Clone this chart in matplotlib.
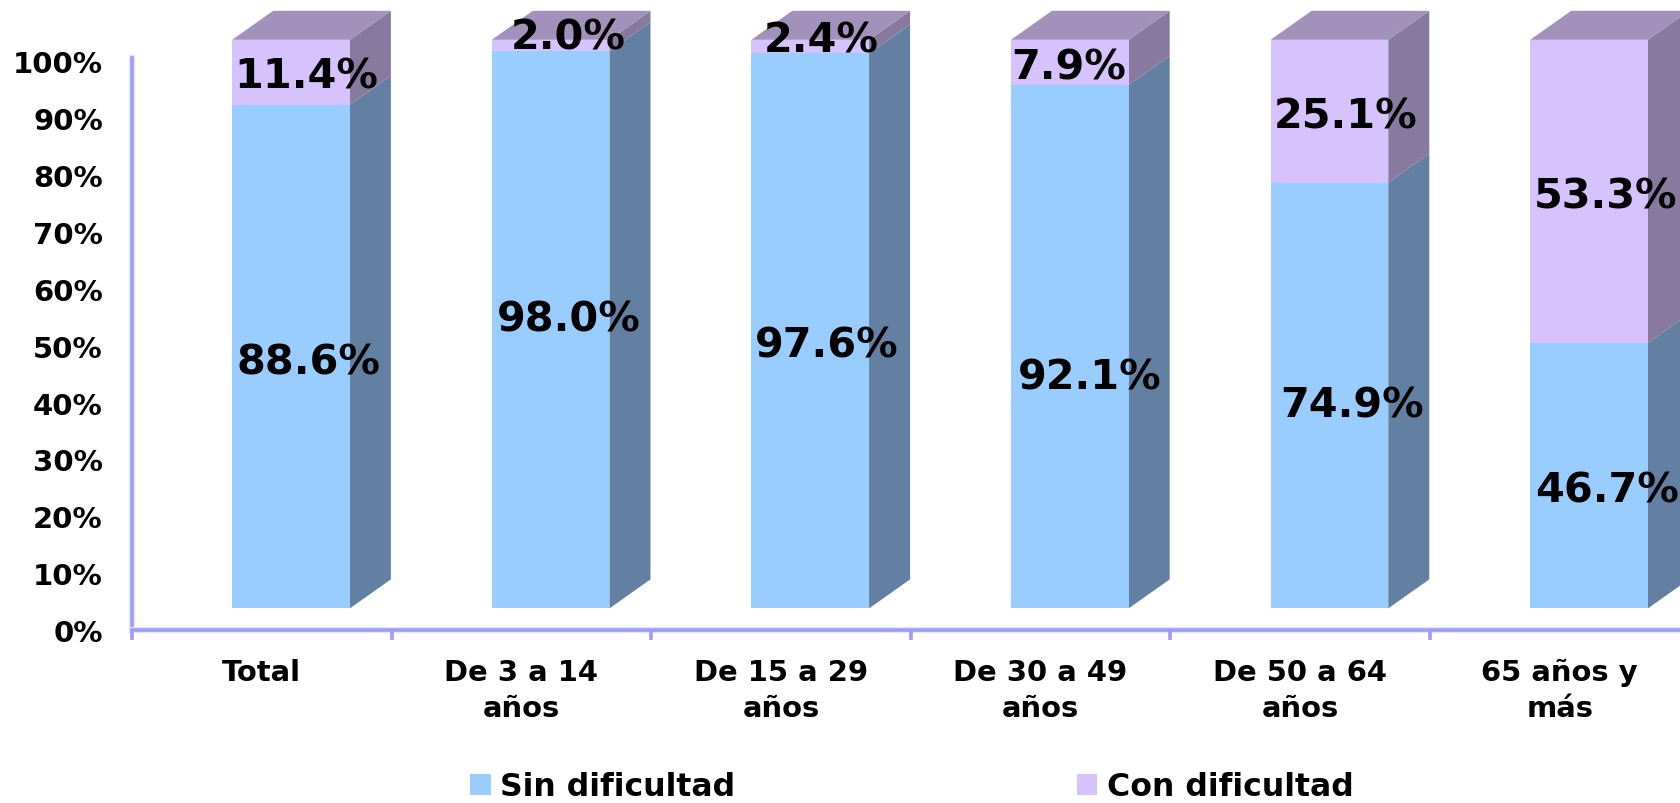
import matplotlib
matplotlib.use('Agg')
import matplotlib.pyplot as plt
import matplotlib.patheffects as pe

categories = ['Total', 'De 3 a 14\naños', 'De 15 a 29\naños', 'De 30 a 49\naños', 'De 50 a 64\naños', '65 años y\nmás']
sin_dificultad = [88.6, 98.0, 97.6, 92.1, 74.9, 46.7]
con_dificultad = [11.4, 2.0, 2.4, 7.9, 25.1, 53.3]
y_ticks = [0, 10, 20, 30, 40, 50, 60, 70, 80, 90, 100]

# label nudges in pixels, labels in the original were moved by hand
sin_nudge = [(17.6, -5.5), (18, 10.5), (17, -15), (20, -30.5), (22.6, -10.5), (18, -14.6)]
con_nudge = [(15.4, -4.5), (17.4, 8), (11.5, 6), (-0.8, -5), (16.6, -5), (17, -5)]

BLUE = '#99CCFF'
BLUE_SIDE = '#6380A3'
PURPLE = '#D6C2FD'
PURPLE_SIDE = '#88799F'
PURPLE_TOP = '#A292BB'
AXIS = '#9C9CFB'

# fake 3d: bars sit a bit above the axis floor, side and top go back by depth
floor = 3.8
bar_w = 0.4535
bar_shift = 0.1125
depth_x = 0.158
depth_y = 5.1

W, H = 1680, 804
fig = plt.figure(figsize=(W / 100, H / 100), dpi=100, facecolor='white')
ax = fig.add_axes([132 / W, (H - 631) / H, (W - 132) / W, 572 / H])
ax.set_xlim(0, (W - 132) / 259.6)
ax.set_ylim(0, 100.6)

for i in range(len(categories)):
    left = i + 0.5 + bar_shift - bar_w / 2
    right = left + bar_w
    split = floor + sin_dificultad[i]
    top = split + con_dificultad[i]

    # side faces
    ax.fill([right, right + depth_x, right + depth_x, right],
            [floor, floor + depth_y, split + depth_y, split],
            color=BLUE_SIDE, lw=0, clip_on=False, zorder=2)
    ax.fill([right, right + depth_x, right + depth_x, right],
            [split, split + depth_y, top + depth_y, top],
            color=PURPLE_SIDE, lw=0, clip_on=False, zorder=2)
    # top face
    ax.fill([left, left + depth_x, right + depth_x, right],
            [top, top + depth_y, top + depth_y, top],
            color=PURPLE_TOP, lw=0, clip_on=False, zorder=2)

x_pos = [i + 0.5 + bar_shift for i in range(len(categories))]
b1 = ax.bar(x_pos, sin_dificultad, bar_w, bottom=floor, color=BLUE, label='Sin dificultad',
            clip_on=False, zorder=3)
b2 = ax.bar(x_pos, con_dificultad, bar_w, bottom=[floor + v for v in sin_dificultad], color=PURPLE,
            label='Con dificultad', clip_on=False, zorder=3)

for i in range(len(categories)):
    ax.annotate('%.1f%%' % sin_dificultad[i], (x_pos[i], floor + sin_dificultad[i] / 2),
                xytext=sin_nudge[i], textcoords='offset pixels', ha='center', va='center',
                fontsize=29.8, fontweight='bold', color='black', zorder=5, annotation_clip=False)
    ax.annotate('%.1f%%' % con_dificultad[i], (x_pos[i], floor + sin_dificultad[i] + con_dificultad[i] / 2),
                xytext=con_nudge[i], textcoords='offset pixels', ha='center', va='center',
                fontsize=29.8, fontweight='bold', color='black', zorder=5, annotation_clip=False)

for s in ['top', 'right']:
    ax.spines[s].set_visible(False)
for s in ['left', 'bottom']:
    ax.spines[s].set_color(AXIS)
    ax.spines[s].set_linewidth(2.6)
    ax.spines[s].set_path_effects([pe.withStroke(linewidth=4.6, foreground='#E6E6F2')])

ax.set_yticks(y_ticks)
ax.set_yticklabels(['%d%%' % t for t in y_ticks], fontsize=21, fontweight='bold')
ax.tick_params(axis='y', length=0, pad=21)

ax.set_xticks(range(len(categories)))
ax.set_xticklabels([])
ax.set_xticks([i + 0.5 for i in range(len(categories))], minor=True)
ax.set_xticklabels(categories, minor=True, fontsize=20.9, fontweight='bold', linespacing=1.375)
ax.tick_params(axis='x', which='major', length=7, width=2.6, color=AXIS)
ax.tick_params(axis='x', which='minor', length=0, pad=20)
ax.xaxis.set_zorder(2.6)  # ticks over the spine halo

fig.legend(handles=[b1, b2], ncol=2, loc='center', bbox_to_anchor=(912 / W, (H - 788) / H),
           frameon=False, handlelength=0.65, handleheight=0.65, handletextpad=0.3,
           columnspacing=10.83, borderpad=0, borderaxespad=0, prop={'size': 22.7, 'weight': 'bold'})

fig.savefig('out.png', dpi=100)
